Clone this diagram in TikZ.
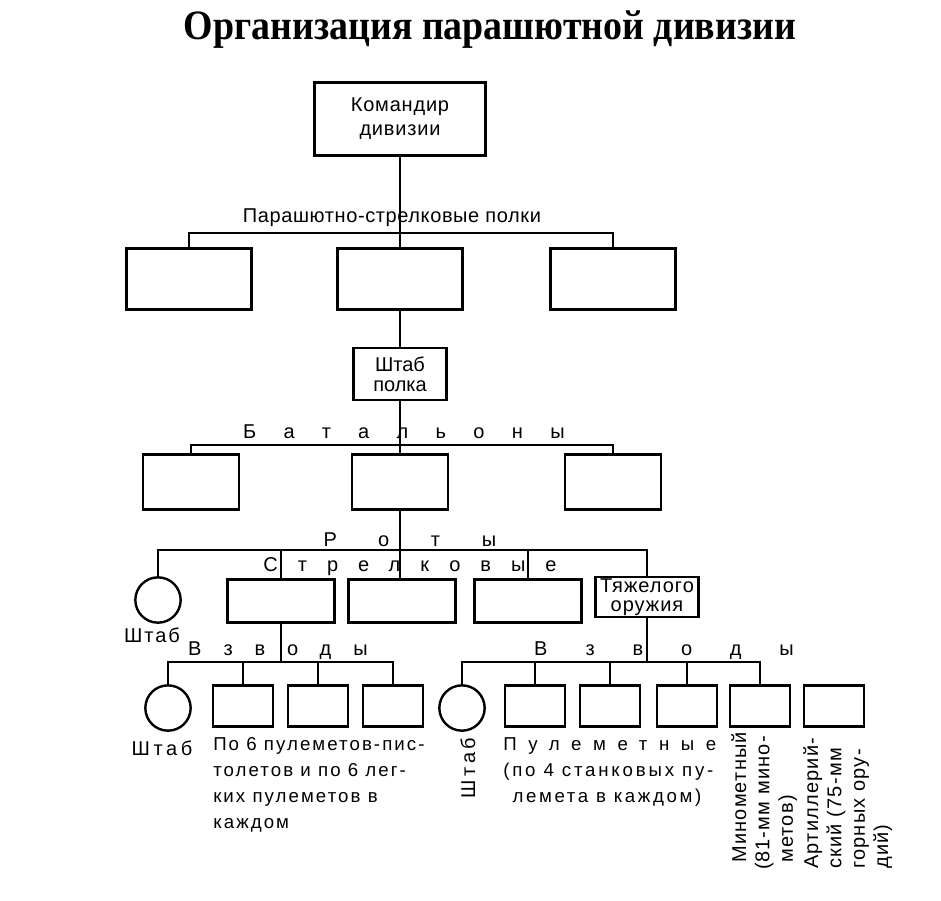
\documentclass[tikz,border=0pt]{standalone}
\usepackage{fontspec}
\setmainfont{Liberation Sans}
\newfontfamily\titlefont{Liberation Serif}
\newcommand{\razr}[2]{{\addfontfeature{LetterSpace=#1}#2}}

\begin{document}
\begin{tikzpicture}[
  x=0.75pt, y=-0.75pt,
  every node/.style={inner sep=1pt, font=\fontsize{15}{19.5}\selectfont},
  title/.style={font=\titlefont\bfseries\fontsize{29}{29}\selectfont},
  box/.style={draw, line width=2.2pt, align=center, inner sep=0pt,
    font=\fontsize{15}{18}\selectfont},
  cmdbox/.style={box, line width=2.6pt, minimum width=128pt, minimum height=55pt},
  regbox/.style={box, minimum width=94pt, minimum height=46pt},
  staffbox/.style={box, minimum width=70pt, minimum height=39pt,
    font=\fontsize{15}{15}\selectfont},
  batbox/.style={box, minimum width=72pt, minimum height=41pt},
  cobox/.style={box, minimum width=80pt, minimum height=32pt},
  plbox/.style={box, minimum width=45pt, minimum height=31pt},
  hq/.style={circle, draw, line width=1.8pt, minimum size=34pt, inner sep=0pt},
  edge/.style={draw, line width=1.3pt},
  lbl/.style={inner sep=0pt},
  note/.style={inner sep=0pt, align=left, font=\fontsize{14}{19.5}\selectfont},
  vnote/.style={inner sep=0pt, align=left, rotate=90,
    font=\fontsize{15}{17.5}\selectfont}]

  \useasboundingbox (0,0) rectangle (941,900);

  % ---- title --------------------------------------------------------------
  \node[title, anchor=base] (title) at (490,39)
    {\scalebox{0.98}[1.08]{Организация парашютной дивизии}};

  % ---- division, regiments ------------------------------------------------
  \node[cmdbox] (cmd) at (400,119) {\razr{4}{Командир}\\\razr{4}{дивизии}};
  \coordinate (bar1) at (400,233);
  \node[lbl] (lregt) at (392,218) {\razr{3}{Парашютно-стрелковые полки}};
  \node[regbox] (reg1) at (189,279) {};
  \node[regbox] (reg2) at (400,279) {};
  \node[regbox] (reg3) at (613,279) {};

  % ---- regiment staff, battalions -----------------------------------------
  \node[staffbox] (staff) at (400,374) {Штаб\\полка};
  \coordinate (bar2) at (400,445);
  \node[lbl] (lbat) at (404,432) {\razr{137}{Батальоны}};
  \node[batbox] (bat1) at (191,482) {};
  \node[batbox] (bat2) at (400,482) {};
  \node[batbox] (bat3) at (613,482) {};

  % ---- companies ----------------------------------------------------------
  \coordinate (bar3) at (400,550);
  \node[lbl] (lco) at (410,540) {\razr{210}{Роты}};
  \node[lbl] (lrifle) at (410,567) {\razr{100}{Стрелковые}};
  \node[hq] (hq1) at (158,600) {};
  \node[lbl] (lhq1) at (152,635) {\razr{10}{Штаб}};
  \node[cobox] (co1) at (281,601) {};
  \node[cobox] (co2) at (402,601) {};
  \node[cobox] (co3) at (528,601) {};
  \node[box, minimum width=77pt, minimum height=30pt,
    font=\fontsize{15}{14.5}\selectfont] (heavy) at (647,597)
    {\razr{5}{Тяжелого}\\\razr{5}{оружия}};

  % ---- platoons of a rifle company ----------------------------------------
  \coordinate (bar4) at (281,662);
  \node[lbl] (lpl1) at (278,651) {\razr{110}{Взводы}};
  \node[hq] (hq2) at (168,708) {};
  \node[lbl] (lhq2) at (162,748) {\razr{18}{Штаб}};
  \node[plbox] (p1) at (243,706) {};
  \node[plbox] (p2) at (318,706) {};
  \node[plbox] (p3) at (393,706) {};
  \node[note, anchor=north west] (np) at (213,737)
    {\razr{11}{По 6 пулеметов-пис-}\\\razr{11}{толетов и по 6 лег-}\\
     \razr{11}{ких пулеметов в}\\\razr{11}{каждом}};

  % ---- platoons of the heavy weapons company ------------------------------
  \coordinate (bar5) at (647,662);
  \node[lbl] (lpl2) at (664,651) {\razr{190}{Взводы}};
  \node[hq] (hq3) at (462,708) {};
  \node[lbl, rotate=90] (lhq3) at (468,768) {\razr{17}{Штаб}};
  \node[plbox] (q1) at (535,706) {};
  \node[plbox] (q2) at (610,706) {};
  \node[plbox] (q3) at (687,706) {};
  \node[plbox] (q4) at (760,706) {};
  \node[plbox] (q5) at (834,706) {};
  \node[note, anchor=north west] (nq) at (503,737)
    {\razr{62}{Пулеметные}\\\razr{15}{(по 4 станковых пу-}\\
     \hspace*{7pt}\razr{14}{лемета в каждом)}};
  \node[vnote, anchor=north west] (nmor) at (731,863)
    {\razr{6}{Минометный}\\\llap{(}\razr{6}{81-мм мино-}\\\razr{6}{метов)}};
  \node[vnote, anchor=north west] (nart) at (803,869)
    {\razr{6}{Артиллерий-}\\\razr{6}{ский (75-мм}\\\razr{6}{горных ору-}\\
     \razr{6}{дий)}};

  % ---- connectors ---------------------------------------------------------
  \draw[edge] (cmd.south) -- (reg2.north);
  \draw[edge] (reg1.north) |- (bar1) -| (reg3.north);
  \draw[edge] (reg2.south) -- (staff.north);
  \draw[edge] (staff.south) -- (bat2.north);
  \draw[edge] (bat1.north) |- (bar2) -| (bat3.north);
  \draw[edge] (bat2.south) -- (bat2.south |- co2.north);
  \draw[edge] (hq1.north) |- (bar3) -| (heavy.north);
  \draw[edge] (co1.north) -- (co1.north |- bar3);
  \draw[edge] (co3.north) -- (co3.north |- bar3);
  \draw[edge] (co1.south) -- (bar4);
  \draw[edge] (hq2.north) |- (bar4) -| (p3.north);
  \draw[edge] (p1.north) -- (p1.north |- bar4);
  \draw[edge] (p2.north) -- (p2.north |- bar4);
  \draw[edge] (heavy.south) -- (bar5);
  \draw[edge] (hq3.north) |- (bar5) -| (q4.north);
  \draw[edge] (q1.north) -- (q1.north |- bar5);
  \draw[edge] (q2.north) -- (q2.north |- bar5);
  \draw[edge] (q3.north) -- (q3.north |- bar5);
\end{tikzpicture}
\end{document}
